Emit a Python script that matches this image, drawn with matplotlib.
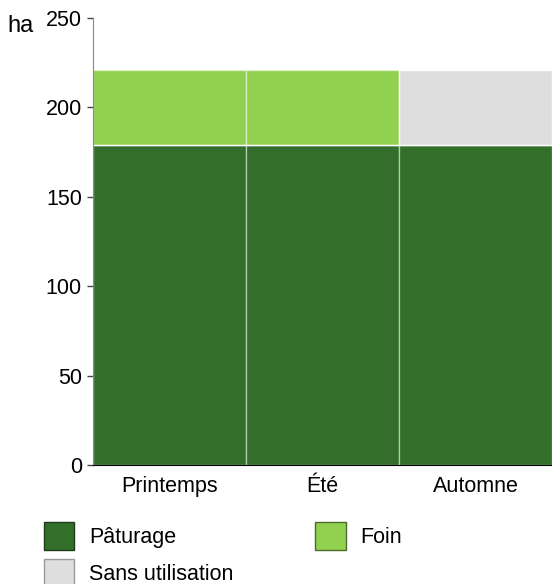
import matplotlib.pyplot as plt
from matplotlib.patches import Patch

plt.rcParams['font.family'] = ['Liberation Sans', 'DejaVu Sans']

seasons = ['Printemps', 'Été', 'Automne']
paturage = [179, 179, 179]
foin = [42, 42, 0]
sans_utilisation = [0, 0, 42]

c_pat = '#336e2b'
c_foin = '#92d050'
c_sans = '#dedede'

fs = 15.5

fig = plt.figure(figsize=(5.52, 5.84), dpi=100)
ax = fig.add_axes([93 / 552, 1 - 465 / 584, 1 - 93 / 552, (465 - 18) / 584])

x = range(len(seasons))
edge = (1, 1, 1, 0.45)
ax.bar(x, paturage, width=1.0, color=c_pat, edgecolor=edge, linewidth=1)
ax.bar(x, foin, width=1.0, bottom=paturage, color=c_foin, edgecolor=edge, linewidth=1)
ax.bar(x, sans_utilisation, width=1.0, bottom=paturage, color=c_sans, edgecolor='white', linewidth=1)

ax.set_xlim(-0.5, 2.5)
ax.set_ylim(0, 250)
ax.set_yticks(range(0, 251, 50))
ax.set_xticks(list(x))
ax.set_xticklabels(seasons)
ax.tick_params(axis='x', length=0, pad=8, labelsize=fs)
ax.tick_params(axis='y', length=4, width=1, color='#444444', pad=4, labelsize=fs)
for s in ['top', 'right']:
    ax.spines[s].set_visible(False)
ax.spines['left'].set_color('#888888')
ax.spines['bottom'].set_color('#000000')

fig.text(7 / 552, 1 - 32 / 584, 'ha', fontsize=17, va='baseline', ha='left')

handles = [
    Patch(facecolor=c_pat, edgecolor='#1c3d17', label='Pâturage'),
    Patch(facecolor=c_sans, edgecolor='#999999', label='Sans utilisation'),
    Patch(facecolor=c_foin, edgecolor='#4a6e28', label='Foin'),
]
fig.legend(handles=handles, ncol=2, loc='upper left',
           bbox_to_anchor=(44 / 552, 1 - 522 / 584), frameon=False,
           fontsize=fs, handlelength=1.4, handleheight=1.6,
           handletextpad=0.7, labelspacing=0.45, columnspacing=3.8,
           borderpad=0, borderaxespad=0)

fig.savefig('out.png', dpi=100)
